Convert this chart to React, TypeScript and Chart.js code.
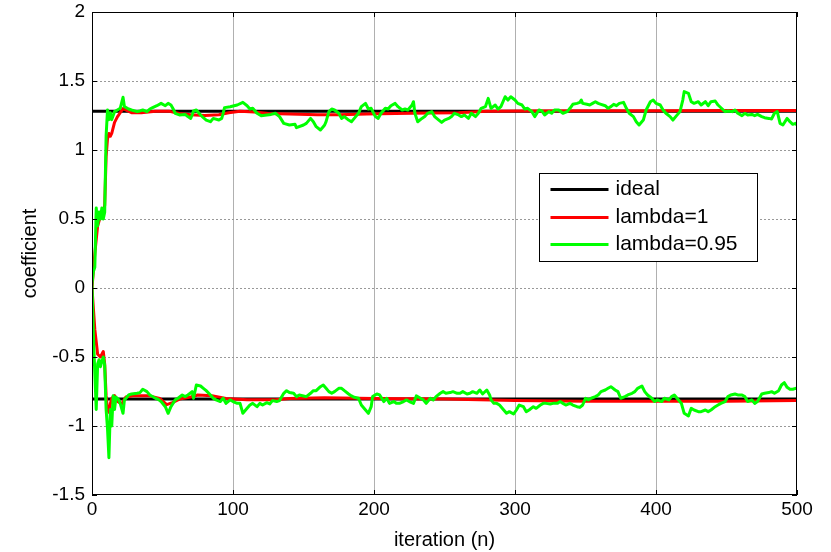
import React, { useEffect, useRef } from "react";
import { Chart, registerables } from "chart.js";

Chart.register(...registerables);

// ---- axis setup ----
const X_MIN = 0;
const X_MAX = 500;
const X_STEP = 100;
const Y_MIN = -1.5;
const Y_MAX = 2;
const Y_STEP = 0.5;
const xTickValues = [0, 100, 200, 300, 400, 500];
const yTickValues = [-1.5, -1, -0.5, 0, 0.5, 1, 1.5, 2];
const xTitle = "iteration (n)";
const yTitle = "coefficient";

// ---- series ----
const seriesLabels = ["ideal", "lambda=1", "lambda=0.95"];
const seriesColors = ["#000000", "#ff0000", "#00ff00"];

// ideal coefficients (two taps)
const idealTop: [number, number][] = [[0, 1.28], [500, 1.28]];
const idealBottom: [number, number][] = [[0, -0.805], [500, -0.805]];

// lambda = 1 (iteration, value)
const redTop: [number, number][] = [
  [0, 0.0], [2, 0.25], [4, 0.45], [6, 0.52], [8, 0.55], [9, 0.6], [10, 0.95], [11, 1.08],
  [12, 1.12], [13, 1.1], [14, 1.12], [16, 1.2], [18, 1.24], [20, 1.27], [22, 1.3], [24, 1.29],
  [28, 1.27], [35, 1.27], [45, 1.28], [55, 1.28], [62, 1.265], [70, 1.255], [80, 1.25],
  [90, 1.255], [97, 1.27], [105, 1.28], [115, 1.275], [125, 1.265], [140, 1.26], [160, 1.255],
  [175, 1.255], [195, 1.26], [215, 1.265], [240, 1.268], [260, 1.27], [280, 1.28],
  [300, 1.283], [350, 1.284], [400, 1.285], [450, 1.286], [500, 1.286],
];
const redBottom: [number, number][] = [
  [0, 0.0], [2, -0.3], [4, -0.48], [6, -0.5], [8, -0.46], [9, -0.55], [10, -0.78], [11, -0.88],
  [12, -0.9], [13, -0.84], [14, -0.8], [16, -0.78], [18, -0.82], [21, -0.84], [24, -0.79],
  [30, -0.78], [40, -0.78], [48, -0.8], [53, -0.845], [57, -0.83], [62, -0.805], [70, -0.79],
  [75, -0.775], [85, -0.78], [95, -0.8], [110, -0.81], [130, -0.81], [140, -0.8], [165, -0.795],
  [200, -0.8], [250, -0.805], [300, -0.815], [350, -0.82], [400, -0.82], [450, -0.82], [500, -0.815],
];

// lambda = 0.95 (iteration, value)
const greenTop: [number, number][] = [
  [0, 0.03], [1, 0.12], [2, 0.15], [3, 0.58], [4, 0.45], [5, 0.55], [6, 0.5], [7, 0.58], [8, 0.5],
  [9, 0.55], [10, 1.1], [11, 1.29], [12, 1.22], [13, 1.27], [14, 1.22], [15, 1.25], [16, 1.278],
  [18, 1.29], [20, 1.302], [22, 1.382], [23, 1.314], [26, 1.297], [28, 1.29], [32, 1.278],
  [34, 1.283], [36, 1.29], [39, 1.278], [41, 1.297], [43, 1.307], [46, 1.321], [49, 1.338],
  [52, 1.321], [54, 1.338], [56, 1.326], [58, 1.29], [59, 1.266], [62, 1.254], [66, 1.258],
  [68, 1.242], [70, 1.229], [71, 1.254], [72, 1.283], [74, 1.29], [77, 1.254], [79, 1.234],
  [81, 1.217], [84, 1.205], [86, 1.229], [90, 1.217], [92, 1.229], [93, 1.266], [94, 1.307],
  [98, 1.314], [103, 1.326], [107, 1.345], [110, 1.321], [112, 1.297], [114, 1.302], [117, 1.266],
  [120, 1.249], [124, 1.254], [127, 1.258], [130, 1.266], [133, 1.242], [136, 1.193], [140, 1.181],
  [144, 1.186], [145, 1.162], [150, 1.181], [152, 1.193], [155, 1.229], [157, 1.205], [159, 1.169],
  [162, 1.145], [164, 1.169], [165, 1.181], [166, 1.205], [168, 1.278], [170, 1.297], [172, 1.29],
  [175, 1.266], [177, 1.229], [179, 1.242], [182, 1.217], [184, 1.205], [186, 1.229], [189, 1.266],
  [191, 1.314], [194, 1.338], [196, 1.297], [198, 1.302], [201, 1.242], [203, 1.229], [205, 1.266],
  [208, 1.302], [210, 1.297], [212, 1.321], [215, 1.338], [217, 1.314], [220, 1.29], [222, 1.297],
  [224, 1.29], [227, 1.326], [228, 1.35], [229, 1.266], [231, 1.205], [234, 1.229], [236, 1.242],
  [238, 1.266], [241, 1.278], [243, 1.242], [246, 1.217], [248, 1.2], [250, 1.217], [253, 1.229],
  [255, 1.242], [257, 1.266], [260, 1.254], [262, 1.242], [264, 1.254], [267, 1.229], [269, 1.266],
  [272, 1.242], [274, 1.266], [276, 1.302], [279, 1.314], [281, 1.374], [283, 1.302], [286, 1.326],
  [288, 1.297], [290, 1.314], [293, 1.386], [295, 1.362], [297, 1.386], [300, 1.362], [302, 1.338],
  [305, 1.326], [307, 1.297], [309, 1.302], [312, 1.278], [314, 1.242], [317, 1.29], [319, 1.283],
  [321, 1.254], [324, 1.278], [326, 1.266], [328, 1.29], [331, 1.29], [334, 1.266], [337, 1.278],
  [339, 1.302], [341, 1.331], [344, 1.338], [346, 1.345], [347, 1.362], [348, 1.338], [351, 1.331],
  [353, 1.326], [355, 1.338], [357, 1.35], [359, 1.338], [361, 1.331], [364, 1.321], [366, 1.302],
  [368, 1.314], [370, 1.331], [372, 1.321], [374, 1.338], [377, 1.345], [379, 1.302], [381, 1.266],
  [384, 1.242], [386, 1.205], [388, 1.181], [391, 1.217], [393, 1.29], [396, 1.35], [398, 1.362],
  [400, 1.338], [403, 1.326], [405, 1.29], [407, 1.266], [410, 1.242], [412, 1.217], [414, 1.242],
  [417, 1.278], [419, 1.362], [420, 1.423], [423, 1.411], [425, 1.35], [427, 1.338], [430, 1.35],
  [432, 1.326], [435, 1.35], [437, 1.321], [439, 1.35], [442, 1.355], [444, 1.326], [447, 1.297],
  [449, 1.278], [451, 1.283], [454, 1.278], [456, 1.29], [458, 1.266], [461, 1.249], [463, 1.266],
  [465, 1.254], [468, 1.258], [470, 1.249], [472, 1.258], [475, 1.242], [477, 1.234], [480, 1.229],
  [482, 1.225], [484, 1.266], [486, 1.278], [488, 1.193], [490, 1.181], [493, 1.229], [495, 1.205],
  [497, 1.186], [499, 1.193], [500, 1.18],
];
const greenBottom: [number, number][] = [
  [0, 0.03], [1, -0.35], [3, -0.88], [4, -0.55], [5, -0.52], [6, -0.57], [7, -0.53], [8, -0.5],
  [9, -0.56], [10, -0.88], [11, -1.02], [12, -1.23], [13, -0.88], [14, -1.0], [15, -0.78],
  [16, -0.88], [17, -0.79], [19, -0.811], [20, -0.836], [22, -0.908], [23, -0.811], [26, -0.775],
  [28, -0.768], [32, -0.763], [34, -0.758], [36, -0.734], [39, -0.751], [41, -0.775], [45, -0.799],
  [47, -0.807], [49, -0.823], [52, -0.86], [54, -0.908], [56, -0.86], [59, -0.811], [61, -0.799],
  [64, -0.775], [66, -0.787], [68, -0.775], [71, -0.751], [72, -0.799], [74, -0.703], [77, -0.71],
  [79, -0.727], [81, -0.744], [84, -0.775], [86, -0.799], [88, -0.811], [91, -0.823], [93, -0.799],
  [95, -0.836], [98, -0.811], [100, -0.823], [103, -0.836], [105, -0.836], [107, -0.908],
  [110, -0.872], [112, -0.848], [114, -0.836], [117, -0.86], [119, -0.836], [121, -0.848],
  [124, -0.831], [126, -0.84], [128, -0.816], [131, -0.823], [133, -0.816], [136, -0.763],
  [138, -0.744], [140, -0.758], [143, -0.763], [145, -0.787], [147, -0.775], [150, -0.782],
  [152, -0.787], [155, -0.763], [157, -0.744], [159, -0.744], [162, -0.715], [164, -0.703],
  [166, -0.727], [168, -0.751], [170, -0.763], [172, -0.751], [175, -0.727], [177, -0.727],
  [179, -0.744], [182, -0.768], [184, -0.782], [186, -0.792], [189, -0.799], [191, -0.848],
  [194, -0.884], [196, -0.908], [198, -0.86], [199, -0.787], [202, -0.768], [204, -0.775],
  [207, -0.823], [209, -0.799], [211, -0.836], [214, -0.823], [216, -0.836], [218, -0.836],
  [221, -0.823], [223, -0.811], [225, -0.823], [228, -0.836], [230, -0.782], [233, -0.799],
  [235, -0.811], [237, -0.836], [240, -0.799], [242, -0.811], [244, -0.787], [247, -0.763],
  [249, -0.751], [251, -0.763], [254, -0.758], [256, -0.751], [259, -0.763], [261, -0.763],
  [263, -0.751], [266, -0.768], [268, -0.763], [270, -0.751], [273, -0.763], [275, -0.739],
  [277, -0.768], [280, -0.739], [282, -0.775], [283, -0.811], [285, -0.836], [287, -0.836],
  [289, -0.848], [292, -0.884], [294, -0.908], [296, -0.896], [299, -0.913], [301, -0.884],
  [303, -0.848], [306, -0.86], [308, -0.896], [310, -0.884], [313, -0.86], [315, -0.872],
  [318, -0.848], [320, -0.836], [322, -0.836], [325, -0.84], [327, -0.836], [330, -0.836],
  [332, -0.823], [334, -0.836], [336, -0.848], [339, -0.836], [341, -0.848], [344, -0.86],
  [346, -0.865], [348, -0.848], [350, -0.799], [352, -0.811], [354, -0.799], [357, -0.787],
  [359, -0.775], [361, -0.751], [364, -0.739], [366, -0.727], [368, -0.715], [371, -0.739],
  [373, -0.751], [375, -0.799], [378, -0.787], [380, -0.775], [383, -0.763], [385, -0.751],
  [387, -0.727], [390, -0.71], [392, -0.751], [394, -0.775], [397, -0.799], [399, -0.823],
  [401, -0.811], [404, -0.823], [406, -0.799], [409, -0.811], [411, -0.787], [413, -0.775],
  [416, -0.811], [418, -0.836], [420, -0.908], [423, -0.927], [425, -0.872], [427, -0.884],
  [430, -0.896], [432, -0.896], [435, -0.884], [437, -0.896], [439, -0.884], [442, -0.86],
  [444, -0.848], [446, -0.836], [449, -0.823], [451, -0.787], [453, -0.775], [456, -0.768],
  [458, -0.775], [461, -0.775], [463, -0.787], [465, -0.823], [468, -0.811], [470, -0.836],
  [472, -0.823], [475, -0.768], [477, -0.763], [480, -0.758], [482, -0.751], [484, -0.763],
  [487, -0.744], [489, -0.703], [491, -0.686], [493, -0.72], [495, -0.734], [497, -0.734],
  [499, -0.727], [500, -0.73],
];

const FONT = "'Liberation Sans', Arial, Helvetica, sans-serif";

const toXY = (arr: [number, number][]) => arr.map(([x, y]) => ({ x, y }));

const matlabPlugin = {
  id: "matlabFrame",
  afterDatasetsDraw(chart: any) {
    const { ctx, chartArea: a, scales } = chart;
    const xs = scales.x;
    const ys = scales.y;
    ctx.save();
    ctx.strokeStyle = "#000";
    ctx.lineWidth = 1;
    // box
    ctx.strokeRect(a.left + 0.5, a.top + 0.5, a.right - a.left - 1, a.bottom - a.top - 1);
    // inward ticks
    const tl = 5;
    ctx.beginPath();
    for (const v of xTickValues) {
      const px = Math.round(xs.getPixelForValue(v)) + 0.5;
      ctx.moveTo(px, a.bottom);
      ctx.lineTo(px, a.bottom - tl);
      ctx.moveTo(px, a.top);
      ctx.lineTo(px, a.top + tl);
    }
    for (const v of yTickValues) {
      const py = Math.round(ys.getPixelForValue(v)) + 0.5;
      ctx.moveTo(a.left, py);
      ctx.lineTo(a.left + tl, py);
      ctx.moveTo(a.right, py);
      ctx.lineTo(a.right - tl, py);
    }
    ctx.stroke();

    // legend (inside the axes, MATLAB style)
    const lx = Math.round(a.right - 258) + 0.5;
    const ly = Math.round(a.top + 161) + 0.5;
    const lw = 218;
    const lh = 88;
    ctx.fillStyle = "#fff";
    ctx.fillRect(lx, ly, lw, lh);
    ctx.strokeStyle = "#000";
    ctx.lineWidth = 1;
    ctx.strokeRect(lx, ly, lw, lh);
    const rows = [16, 44, 71];
    ctx.font = `21px ${FONT}`;
    ctx.textBaseline = "middle";
    ctx.textAlign = "left";
    seriesLabels.forEach((label, i) => {
      const ry = ly + rows[i];
      ctx.strokeStyle = seriesColors[i];
      ctx.lineWidth = 3;
      ctx.beginPath();
      ctx.moveTo(lx + 11, ry);
      ctx.lineTo(lx + 69, ry);
      ctx.stroke();
      ctx.fillStyle = "#000";
      ctx.fillText(label, lx + 76, ry);
    });
    ctx.restore();
  },
};

export default function App() {
  const canvasRef = useRef<HTMLCanvasElement | null>(null);

  useEffect(() => {
    if (!canvasRef.current) return;
    const mk = (data: [number, number][], i: number, order: number) => ({
      label: seriesLabels[i],
      data: toXY(data),
      borderColor: seriesColors[i],
      backgroundColor: seriesColors[i],
      borderWidth: 3,
      pointRadius: 0,
      tension: 0,
      fill: false,
      borderJoinStyle: "round" as const,
      order,
    });
    const chart = new Chart(canvasRef.current, {
      type: "line",
      data: {
        datasets: [
          mk(idealTop, 0, 3),
          mk(idealBottom, 0, 3),
          mk(redTop, 1, 2),
          mk(redBottom, 1, 2),
          mk(greenTop, 2, 1),
          mk(greenBottom, 2, 1),
        ],
      },
      options: {
        animation: false,
        responsive: false,
        devicePixelRatio: 1,
        layout: { padding: { left: 0, top: 12, right: 34, bottom: 0 } },
        plugins: {
          legend: { display: false },
          tooltip: { enabled: false },
        },
        scales: {
          x: {
            type: "linear",
            min: X_MIN,
            max: X_MAX,
            ticks: {
              stepSize: X_STEP,
              color: "#000",
              font: { family: FONT, size: 19 },
              padding: 3,
              maxRotation: 0,
              callback: (v: any) => String(v),
            },
            grid: {
              color: "#b0b0b0",
              lineWidth: (c: any) => (c.tick && (c.tick.value === X_MIN || c.tick.value === X_MAX) ? 0 : 1),
              drawTicks: false,
            },
            border: { display: false },
            title: {
              display: true,
              text: xTitle,
              color: "#000",
              font: { family: FONT, size: 20 },
              padding: { top: 0, bottom: 0 },
            },
            afterFit: (s: any) => {
              s.height = 57;
              s.paddingLeft = 0;
              s.paddingRight = 0;
            },
          },
          y: {
            type: "linear",
            min: Y_MIN,
            max: Y_MAX,
            ticks: {
              stepSize: Y_STEP,
              color: "#000",
              font: { family: FONT, size: 19 },
              padding: 7,
              callback: (v: any) => String(v),
            },
            grid: {
              color: "#999999",
              lineWidth: (c: any) => (c.tick && (c.tick.value === Y_MIN || c.tick.value === Y_MAX) ? 0 : 1),
              drawTicks: false,
            },
            border: { display: false, dash: [2, 2] },
            title: {
              display: true,
              text: yTitle,
              color: "#000",
              font: { family: FONT, size: 20 },
              padding: { top: 18, bottom: 0 },
            },
            afterFit: (s: any) => {
              s.width = 92;
              s.paddingTop = 0;
              s.paddingBottom = 0;
            },
          },
        },
      },
      plugins: [matlabPlugin],
    });
    return () => chart.destroy();
  }, []);

  return (
    <div style={{ position: "absolute", left: 0, top: 0, width: 831, height: 552, background: "#fff" }}>
      <canvas ref={canvasRef} width={831} height={552} />
    </div>
  );
}
